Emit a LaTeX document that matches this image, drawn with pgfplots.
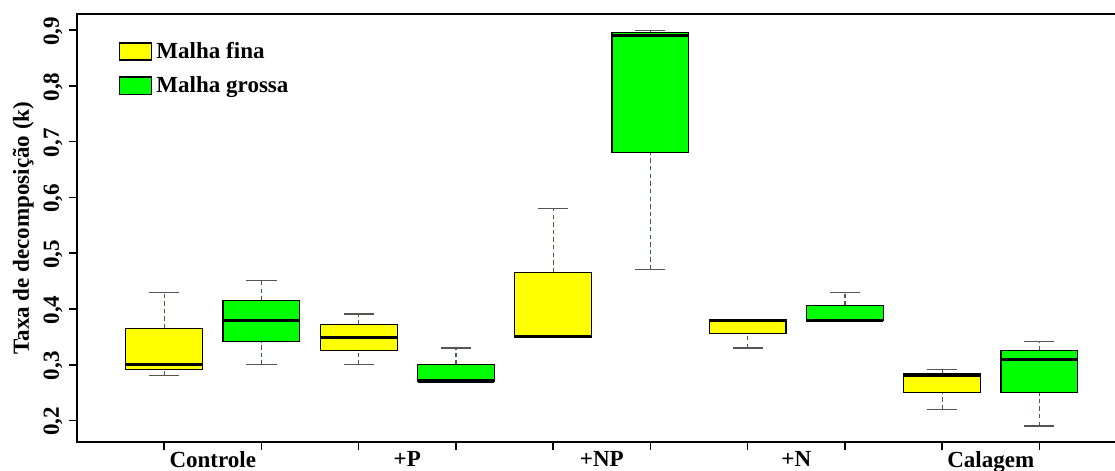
\documentclass[border=0pt]{standalone}
\usepackage{fontspec}
\setmainfont{Liberation Serif}
\usepackage{pgfplots}
\pgfplotsset{compat=1.18}
\usepgfplotslibrary{statistics}
\usetikzlibrary{calc}
\definecolor{cFina}{HTML}{FFFF00}
\definecolor{cGrossa}{HTML}{00FF00}
\definecolor{cWhisk}{HTML}{555555}
\newcommand{\bxfont}{\fontsize{11.5}{13}\selectfont\bfseries}
\tikzset{
  whisk/.style={draw=cWhisk,line width=0.6pt,dash pattern=on 2.2pt off 1.6pt},
  wcap/.style={draw=cWhisk,line width=0.6pt}}
\pgfplotsset{
  rbox/.style={draw=black,line width=0.6pt,fill=#1,
    boxplot/draw direction=y,
    boxplot/box extend=0.79,boxplot/whisker extend=0.31,
    boxplot/every median/.style={line width=1.6pt},
    boxplot/draw/lower whisker/.code={%
      \draw[whisk] (boxplot box cs:\pgfplotsboxplotvalue{lower whisker},0.5) -- (boxplot box cs:\pgfplotsboxplotvalue{lower quartile},0.5);
      \draw[wcap] (boxplot whisker cs:\pgfplotsboxplotvalue{lower whisker},0) -- (boxplot whisker cs:\pgfplotsboxplotvalue{lower whisker},1);},
    boxplot/draw/upper whisker/.code={%
      \draw[whisk] (boxplot box cs:\pgfplotsboxplotvalue{upper quartile},0.5) -- (boxplot box cs:\pgfplotsboxplotvalue{upper whisker},0.5);
      \draw[wcap] (boxplot whisker cs:\pgfplotsboxplotvalue{upper whisker},0) -- (boxplot whisker cs:\pgfplotsboxplotvalue{upper whisker},1);}},
  fina/.style={rbox=cFina}, grossa/.style={rbox=cGrossa}}
\begin{document}
\begin{tikzpicture}
\begin{axis}[scale only axis,width=519pt,height=214pt,
    xmin=0.104,xmax=10.79,ymin=0.1606,ymax=0.929,
    axis line style={line width=1pt},
    tick style={line width=0.8pt,black},
    tick align=outside,major tick length=3.8pt,
    xtick pos=bottom,ytick pos=left,
    xtick={1,...,10},xticklabels={},
    extra x ticks={1.5,3.5,5.5,7.5,9.5},
    extra x tick labels={Controle,+P,+NP,+N,Calagem},
    extra x tick style={major tick length=0pt},
    x tick label style={font=\bxfont,yshift=-1pt},
    ytick={0.2,0.3,0.4,0.5,0.6,0.7,0.8,0.9},
    yticklabels={{0,2},{0,3},{0,4},{0,5},{0,6},{0,7},{0,8},{0,9}},
    y tick label style={font=\bxfont,rotate=90,anchor=south,xshift=-0.5pt},
    ylabel={Taxa de decomposição (k)},
    ylabel style={font=\bxfont,yshift=-2pt},
    legend style={draw=none,fill=none,at={(0.04,0.945)},anchor=north west,
      font=\bxfont,inner sep=0pt,row sep=3.5pt},
    legend cell align=left]
\coordinate (bl) at (rel axis cs:0,0);
\coordinate (tr) at (rel axis cs:1,1);
\addlegendimage{legend image code/.code={\draw[fill=cFina,draw=black,line width=0.7pt] (0pt,-4.25pt) rectangle (16pt,4.25pt);}}
\addlegendentry{Malha fina}
\addlegendimage{legend image code/.code={\draw[fill=cGrossa,draw=black,line width=0.7pt] (0pt,-4.25pt) rectangle (16pt,4.25pt);}}
\addlegendentry{Malha grossa}
% Controle
\addplot[fina,boxplot prepared={draw position=1,lower whisker=0.281,lower quartile=0.291,median=0.300,upper quartile=0.365,upper whisker=0.430}] coordinates {};
\addplot[grossa,boxplot prepared={draw position=2,lower whisker=0.300,lower quartile=0.341,median=0.380,upper quartile=0.415,upper whisker=0.451}] coordinates {};
% +P
\addplot[fina,boxplot prepared={draw position=3,lower whisker=0.300,lower quartile=0.326,median=0.349,upper quartile=0.372,upper whisker=0.391}] coordinates {};
\addplot[grossa,boxplot prepared={draw position=4,lower whisker=0.270,lower quartile=0.270,median=0.271,upper quartile=0.300,upper whisker=0.330}] coordinates {};
% +NP
\addplot[fina,boxplot prepared={draw position=5,lower whisker=0.349,lower quartile=0.349,median=0.350,upper quartile=0.466,upper whisker=0.580}] coordinates {};
\addplot[grossa,boxplot prepared={draw position=6,lower whisker=0.471,lower quartile=0.680,median=0.891,upper quartile=0.896,upper whisker=0.900}] coordinates {};
% +N
\addplot[fina,boxplot prepared={draw position=7,lower whisker=0.330,lower quartile=0.356,median=0.380,upper quartile=0.381,upper whisker=0.381}] coordinates {};
\addplot[grossa,boxplot prepared={draw position=8,lower whisker=0.379,lower quartile=0.379,median=0.380,upper quartile=0.406,upper whisker=0.430}] coordinates {};
% Calagem
\addplot[fina,boxplot prepared={draw position=9,lower whisker=0.220,lower quartile=0.250,median=0.281,upper quartile=0.285,upper whisker=0.292}] coordinates {};
\addplot[grossa,boxplot prepared={draw position=10,lower whisker=0.190,lower quartile=0.250,median=0.310,upper quartile=0.326,upper whisker=0.341}] coordinates {};
\end{axis}
\pgfresetboundingbox
\path[use as bounding box] ($(bl)+(-38.5pt,-14pt)$) rectangle ($(tr)+(-0.6pt,7pt)$);
\end{tikzpicture}
\end{document}
